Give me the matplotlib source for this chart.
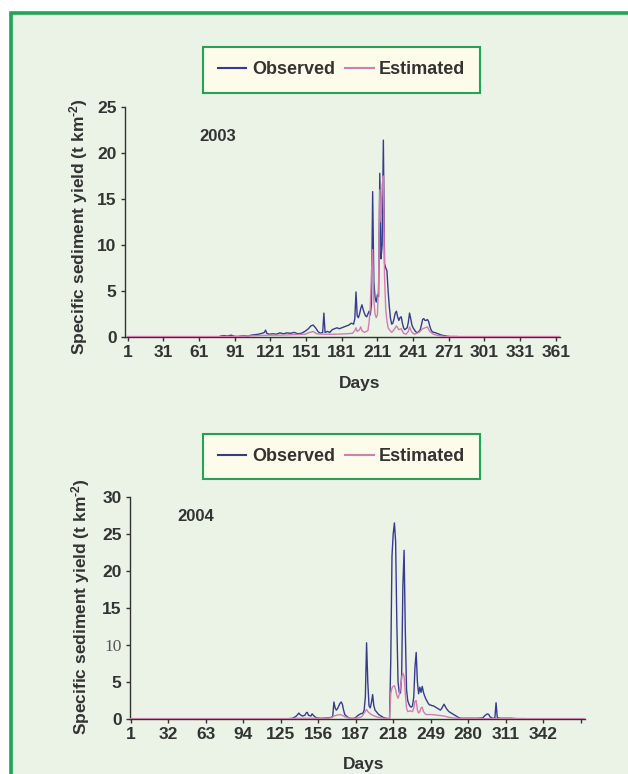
import matplotlib
matplotlib.use("Agg")
import matplotlib.pyplot as plt
from matplotlib.patches import Rectangle
from matplotlib.lines import Line2D

plt.rcParams['font.family'] = ['Liberation Sans', 'DejaVu Sans']
plt.rcParams['font.weight'] = 'bold'
plt.rcParams['mathtext.fontset'] = 'custom'
plt.rcParams['mathtext.rm'] = 'Liberation Sans:bold'
plt.rcParams['mathtext.it'] = 'Liberation Sans:bold'
plt.rcParams['mathtext.bf'] = 'Liberation Sans:bold'

# ---- 2003 daily sediment yield (t km-2) ----
obs03_days = [79, 82, 85, 88, 90, 93, 96, 99, 102, 105, 108, 111, 114, 116, 117, 118, 120,
              123, 126, 129, 132, 135, 138, 141, 144, 147, 150, 153, 155, 157, 159, 161, 163,
              165, 166, 167, 169, 171, 173, 175, 177, 179, 181, 183, 185, 187, 189, 191, 192,
              193, 194, 195, 196, 197, 198, 199, 200, 201, 202, 203, 204, 205, 206, 207, 208,
              209, 210, 211, 212, 213, 214, 215, 216, 217, 218, 219, 220, 221, 222, 223, 224,
              225, 226, 227, 228, 229, 230, 231, 232, 233, 234, 235, 236, 237, 238, 239, 240,
              241, 242, 243, 244, 245, 246, 247, 248, 249, 250, 251, 252, 253, 254, 255, 256,
              257, 258, 259, 261, 263, 265, 267, 269, 272, 275, 278]
obs03_vals = [0.1, 0.15, 0.1, 0.2, 0.1, 0.05, 0.1, 0.15, 0.1, 0.2, 0.25, 0.3, 0.4, 0.5, 0.75, 0.4, 0.3,
              0.35, 0.3, 0.45, 0.35, 0.45, 0.4, 0.5, 0.35, 0.4, 0.6, 0.9, 1.2, 1.3, 1.0, 0.6, 0.4,
              0.5, 2.6, 0.5, 0.6, 0.5, 0.8, 0.9, 1.0, 0.9, 1.0, 1.1, 1.2, 1.3, 1.5, 1.4, 2.0,
              4.9, 2.3, 2.1, 2.5, 3.1, 3.5, 3.0, 2.6, 2.3, 2.2, 2.5, 2.8, 2.4, 3.6, 15.8, 6.0,
              4.3, 3.8, 4.6, 4.4, 17.8, 8.5, 10.0, 21.4, 8.0, 7.5, 7.2, 5.0, 3.3, 2.0, 1.4, 1.5,
              2.0, 2.6, 2.8, 2.2, 1.8, 2.1, 2.2, 1.5, 1.0, 0.8, 0.9, 1.0, 1.6, 2.6, 2.0, 1.3,
              1.0, 0.8, 0.6, 0.5, 0.5, 0.6, 0.8, 1.3, 1.9, 2.0, 1.8, 1.8, 1.9, 1.7, 1.2, 0.8,
              0.6, 0.5, 0.5, 0.4, 0.3, 0.2, 0.15, 0.1, 0.05, 0.05, 0.05]

est03_days = [1, 60, 90, 100, 110, 120, 130, 140, 150, 154, 157, 160, 166, 175, 185, 190, 192,
              193, 194, 196, 197, 198, 200, 203, 204, 205, 206, 207, 208, 209, 210, 211, 212,
              213, 214, 215, 216, 217, 218, 219, 220, 221, 223, 225, 227, 229, 231, 233, 235,
              237, 238, 240, 242, 246, 249, 251, 253, 255, 258, 262, 268, 365]
est03_vals = [0.05, 0.05, 0.05, 0.1, 0.15, 0.2, 0.2, 0.25, 0.3, 0.5, 0.6, 0.35, 0.3, 0.3, 0.35, 0.4, 0.7,
              1.0, 0.6, 0.8, 1.1, 0.7, 0.5, 0.7, 1.6, 3.2, 7.0, 9.5, 4.0, 2.5, 2.1, 2.4, 6.0,
              16.0, 12.5, 16.5, 17.5, 6.5, 3.0, 1.8, 1.0, 0.8, 0.5, 0.8, 1.2, 0.8, 0.9, 0.4, 0.3,
              0.6, 1.1, 0.5, 0.3, 0.5, 0.9, 1.0, 1.1, 0.6, 0.3, 0.15, 0.05, 0.05]

# ---- 2004 daily sediment yield (t km-2) ----
obs04_days = [132, 135, 138, 140, 141, 143, 145, 146, 147, 148, 150, 151, 152, 154, 157, 160, 163,
              166, 168, 169, 170, 171, 172, 174, 175, 176, 177, 178, 180, 182, 185, 187, 189,
              191, 193, 194, 195, 196, 197, 198, 199, 200, 201, 202, 203, 204, 206, 208, 210,
              212, 214, 215, 216, 217, 218, 219, 220, 221, 222, 223, 224, 225, 226, 227, 228,
              229, 230, 231, 232, 233, 234, 235, 236, 237, 238, 239, 240, 241, 242, 243, 244,
              245, 246, 247, 248, 249, 250, 251, 252, 253, 254, 255, 256, 257, 258, 259, 260,
              261, 262, 263, 264, 265, 266, 267, 268, 269, 270, 271, 272, 274, 278, 283, 288,
              292, 294, 296, 297, 298, 300, 302, 303, 304, 306, 310, 315, 320, 327]
obs04_vals = [0.05, 0.1, 0.4, 0.8, 0.6, 0.4, 0.5, 0.8, 0.9, 0.5, 0.4, 0.7, 0.5, 0.2, 0.1, 0.1, 0.15,
              0.2, 0.3, 2.3, 1.5, 1.2, 1.4, 2.1, 2.3, 2.0, 1.2, 0.6, 0.3, 0.1, 0.05, 0.2, 0.5,
              0.7, 0.8, 1.2, 3.0, 10.3, 5.0, 1.8, 1.5, 2.2, 3.3, 1.8, 1.2, 1.0, 0.6, 0.4, 0.2,
              0.1, 0.05, 0.1, 8.0, 22.0, 25.0, 26.5, 24.0, 13.0, 5.0, 3.6, 3.5, 6.0, 18.0, 22.8, 12.0,
              4.0, 2.5, 2.0, 1.7, 1.6, 1.8, 3.0, 7.0, 9.0, 5.0, 3.4, 4.3, 3.6, 4.4, 3.6, 3.1,
              2.7, 2.4, 2.1, 1.9, 1.9, 1.8, 1.8, 1.7, 1.6, 1.5, 1.4, 1.3, 1.2, 1.4, 1.7, 2.0,
              1.7, 1.4, 1.2, 1.0, 0.9, 0.8, 0.7, 0.6, 0.5, 0.4, 0.3, 0.2, 0.1, 0.1, 0.1, 0.1,
              0.15, 0.5, 0.7, 0.6, 0.3, 0.1, 0.1, 2.2, 0.2, 0.1, 0.1, 0.1, 0.05, 0.05]

est04_days = [1, 130, 140, 150, 160, 166, 169, 171, 174, 176, 178, 182, 188, 192, 194, 196, 197,
              199, 201, 204, 208, 214, 215, 216, 217, 218, 219, 220, 221, 222, 223, 224, 225,
              226, 227, 228, 229, 230, 232, 234, 235, 236, 237, 238, 239, 240, 241, 242, 243,
              245, 250, 255, 260, 265, 270, 280, 376]
est04_vals = [0.05, 0.05, 0.1, 0.1, 0.1, 0.15, 0.4, 0.5, 0.6, 0.5, 0.3, 0.1, 0.1, 0.3, 0.8, 1.3, 1.0,
              0.7, 0.5, 0.3, 0.15, 0.05, 0.1, 3.5, 4.2, 4.4, 4.5, 4.0, 3.2, 2.8, 3.3, 4.2, 5.6,
              6.2, 5.8, 3.5, 1.5, 1.0, 1.1, 1.0, 1.5, 2.4, 2.5, 1.2, 0.8, 1.0, 1.5, 1.6, 1.0,
              0.6, 0.6, 0.5, 0.4, 0.2, 0.1, 0.05, 0.05]

ticks03 = [1, 31, 61, 91, 121, 151, 181, 211, 241, 271, 301, 331, 361]
ticks04 = [1, 32, 63, 94, 125, 156, 187, 218, 249, 280, 311, 342, 373]
tick_labels04 = ['1', '32', '63', '94', '125', '156', '187', '218', '249', '280', '311', '342', '']

OBS_COLOR = '#363b91'
EST_COLOR = '#d47cb0'
TEXT_COLOR = '#333333'
GREEN = '#1fa555'

fig = plt.figure(figsize=(6.28, 7.74), dpi=100)
fig.patch.set_facecolor('white')

# green framed panel behind both charts
panel = Rectangle((10.5 / 628, -0.1), 1.2, 1 - 13.5 / 774 + 0.1, transform=fig.transFigure,
                  facecolor='#ebf3e7', edgecolor=GREEN, linewidth=2.6, zorder=-10)
fig.add_artist(panel)


def style_axes(ax, ymax, ystep):
    ax.set_facecolor('none')
    for side in ['top', 'right']:
        ax.spines[side].set_visible(False)
    for side in ['left', 'bottom']:
        ax.spines[side].set_color(TEXT_COLOR)
        ax.spines[side].set_linewidth(1.0)
    ax.set_ylim(0, ymax)
    ax.set_yticks(range(0, ymax + 1, ystep))
    ax.tick_params(axis='both', direction='out', length=3, width=1.0, color=TEXT_COLOR,
                   labelsize=12.5, labelcolor=TEXT_COLOR, pad=3)
    for lab in ax.get_xticklabels() + ax.get_yticklabels():
        lab.set_fontweight('bold')


ylabel = r'Specific sediment yield (t km$^{\text{-}2}$)'

# ---- 2003 ----
ax1 = fig.add_axes([125 / 628, 1 - 337 / 774, 435 / 628, 230 / 774])
ax1.plot(obs03_days, obs03_vals, color=OBS_COLOR, lw=1.0, zorder=3)
ax1.plot(est03_days, est03_vals, color=EST_COLOR, lw=1.0, zorder=4)
ax1.set_xlim(-1.2, 364.5)
ax1.set_xticks(ticks03)
style_axes(ax1, 25, 5)
ax1.set_ylabel(ylabel, fontsize=12.5, fontweight='bold', color=TEXT_COLOR)
ax1.yaxis.set_label_coords(-0.08, 0.48)
ax1.set_xlabel('Days', fontsize=12.5, fontweight='bold', color=TEXT_COLOR)
ax1.xaxis.set_label_coords(0.54, -0.17)
ax1.text(0.214, 0.87, '2003', transform=ax1.transAxes, fontsize=12, fontweight='bold',
         color=TEXT_COLOR, ha='center', va='center')

# ---- 2004 ----
ax2 = fig.add_axes([130 / 628, 1 - 719 / 774, 455 / 628, 222 / 774])
ax2.plot(obs04_days, obs04_vals, color=OBS_COLOR, lw=1.0, zorder=3)
ax2.plot(est04_days, est04_vals, color=EST_COLOR, lw=1.0, zorder=4)
ax2.set_xlim(0.5, 376.5)
ax2.set_xticks(ticks04)
ax2.set_xticklabels(tick_labels04)
style_axes(ax2, 30, 5)
for lab in ax2.get_yticklabels():
    if lab.get_text() == '10':
        lab.set_fontfamily(['Liberation Serif', 'DejaVu Serif'])
        lab.set_fontweight('normal')
        lab.set_color('#555555')
ax2.set_ylabel(ylabel, fontsize=12.5, fontweight='bold', color=TEXT_COLOR)
ax2.yaxis.set_label_coords(-0.083, 0.505)
ax2.set_xlabel('Days', fontsize=12.5, fontweight='bold', color=TEXT_COLOR)
ax2.xaxis.set_label_coords(0.514, -0.171)
ax2.text(0.145, 0.91, '2004', transform=ax2.transAxes, fontsize=12, fontweight='bold',
         color=TEXT_COLOR, ha='center', va='center')

# legends above each chart
handles = [Line2D([], [], color=OBS_COLOR, lw=1.5), Line2D([], [], color=EST_COLOR, lw=1.5)]
for ax, cy in [(ax1, 1 - 70 / 774), (ax2, 1 - 456.5 / 774)]:
    leg = ax.legend(handles, ['Observed', 'Estimated'], loc='center',
                    bbox_to_anchor=(341.5 / 628, cy), bbox_transform=fig.transFigure,
                    ncol=2, frameon=True, fancybox=False, edgecolor=GREEN, facecolor='#fdfbea',
                    framealpha=1, handlelength=1.6, handletextpad=0.3, columnspacing=0.55,
                    borderpad=0.8, prop={'weight': 'bold', 'size': 13})
    leg.get_frame().set_linewidth(1.5)
    for t in leg.get_texts():
        t.set_color(TEXT_COLOR)

fig.savefig('out.png', dpi=100, facecolor=fig.get_facecolor())
